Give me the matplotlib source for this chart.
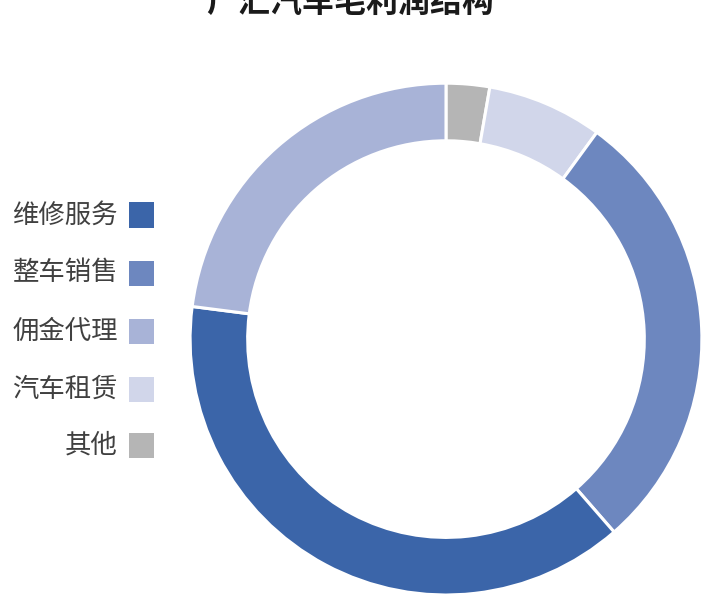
import matplotlib
matplotlib.use("Agg")
import matplotlib.pyplot as plt
from matplotlib.patches import Rectangle

plt.rcParams['font.family'] = ['Noto Sans CJK SC', 'DejaVu Sans']

# 数据（图例顺序）
categories = ['维修服务', '整车销售', '佣金代理', '汽车租赁', '其他']
shares = [38.5, 28.6, 23.0, 7.3, 2.75]
colors = ['#3B65A9', '#6D87BF', '#A8B3D7', '#D1D6EA', '#B5B5B5']

# 饼图中的顺序（从 12 点钟方向顺时针）
pie_order = [4, 3, 1, 0, 2]

fig = plt.figure(figsize=(7.1, 6.1), dpi=100)
ax = fig.add_axes([0.2676, 0.0246, 0.7211, 0.839])
ax.pie([shares[i] for i in pie_order],
       colors=[colors[i] for i in pie_order],
       startangle=90, counterclock=False, radius=1.0,
       wedgeprops=dict(width=0.225, edgecolor='white', linewidth=2.2))
ax.set_xlim(-1, 1)
ax.set_ylim(-1, 1)
ax.set_aspect('equal')
ax.axis('off')

# 标题（和原图一样，顶部被截断）
fig.text(0.493, 0.995, '广汇汽车毛利润结构', ha='center', va='center',
         fontsize=23, fontweight='bold', color='#1a1a1a')

# 图例
W, H = 710, 610
row_y = [215, 273, 331, 389, 445]
for lab, col, y in zip(categories, colors, row_y):
    fig.text(118 / W, 1 - y / H, lab, ha='right', va='center',
             fontsize=19, color='#404040')
    fig.patches.append(Rectangle((129 / W, 1 - (y + 12.5) / H), 25 / W, 25 / H,
                                 transform=fig.transFigure, facecolor=col,
                                 edgecolor='none'))

fig.savefig('out.png', dpi=100, facecolor='white')
